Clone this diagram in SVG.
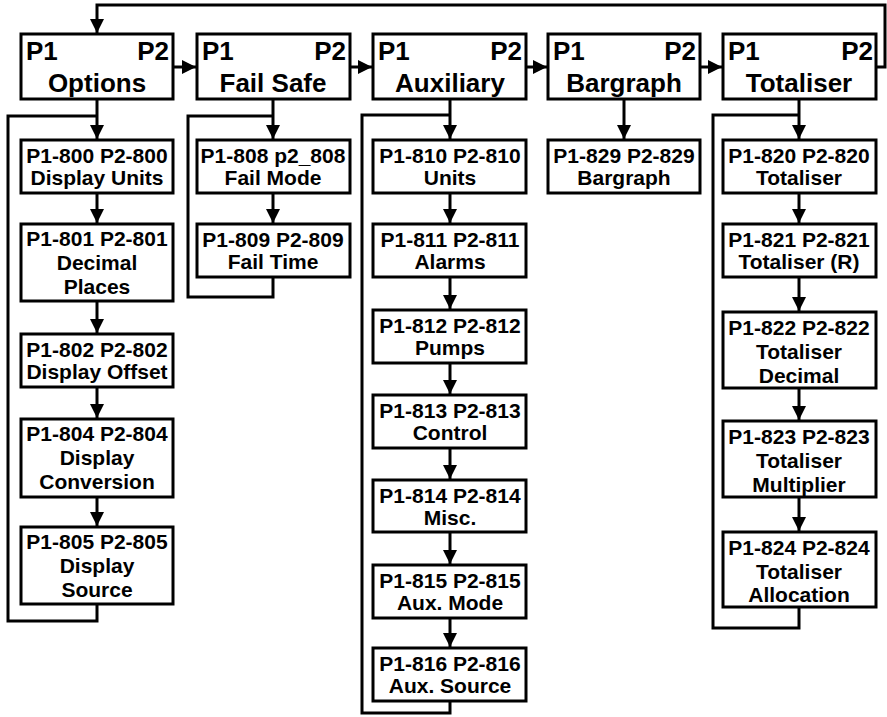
<svg xmlns="http://www.w3.org/2000/svg" width="887" height="717" viewBox="0 0 887 717">
<defs>
<marker id="ah" markerUnits="userSpaceOnUse" markerWidth="16" markerHeight="16" refX="14" refY="7" orient="auto">
<path d="M0,0 L14,7 L0,14 z" fill="#000"/>
</marker>
</defs>
<style>
rect{fill:#fff;stroke:#000;stroke-width:3}
.c line,.c polyline{fill:none;stroke:#000;stroke-width:3}
.a{marker-end:url(#ah)}
text{font-family:"Liberation Sans",Arial,sans-serif;font-weight:bold;fill:#000}
.h{font-size:26px}
.s{font-size:21px;text-anchor:middle}
.m{text-anchor:middle}
.e{text-anchor:end}
</style>
<g class="c" id="connectors">
<polyline points="876,67 885,67 885,5 97,5 97,33" class="a"/>
<line x1="174" y1="67" x2="196" y2="67" class="a"/>
<line x1="350" y1="67" x2="372" y2="67" class="a"/>
<line x1="526" y1="67" x2="547" y2="67" class="a"/>
<line x1="701" y1="67" x2="722" y2="67" class="a"/>
<line x1="97" y1="100" x2="97" y2="139" class="a"/>
<line x1="273" y1="100" x2="273" y2="139" class="a"/>
<line x1="450" y1="100" x2="450" y2="139" class="a"/>
<line x1="624" y1="100" x2="624" y2="139" class="a"/>
<line x1="799" y1="100" x2="799" y2="139" class="a"/>
<polyline points="97,605 97,621 8,621 8,116 97,116"/>
<polyline points="273,278 273,297 188,297 188,116 273,116"/>
<polyline points="450,702 450,713 362,713 362,115 450,115"/>
<polyline points="799,608 799,628 713,628 713,115 799,115"/>
<line x1="97" y1="194" x2="97" y2="223" class="a"/>
<line x1="97" y1="302" x2="97" y2="333" class="a"/>
<line x1="97" y1="388" x2="97" y2="418" class="a"/>
<line x1="97" y1="498" x2="97" y2="526" class="a"/>
<line x1="273" y1="194" x2="273" y2="223" class="a"/>
<line x1="450" y1="194" x2="450" y2="223" class="a"/>
<line x1="450" y1="278" x2="450" y2="309" class="a"/>
<line x1="450" y1="364" x2="450" y2="394" class="a"/>
<line x1="450" y1="449" x2="450" y2="479" class="a"/>
<line x1="450" y1="533" x2="450" y2="564" class="a"/>
<line x1="450" y1="619" x2="450" y2="647" class="a"/>
<line x1="799" y1="194" x2="799" y2="223" class="a"/>
<line x1="799" y1="278" x2="799" y2="311" class="a"/>
<line x1="799" y1="389" x2="799" y2="420" class="a"/>
<line x1="799" y1="498" x2="799" y2="531" class="a"/>
</g>
<g id="h-options"><rect x="21" y="34" width="152" height="65"/><text class="h" x="26" y="60">P1</text><text class="h e" x="169" y="60">P2</text><text class="h m" x="97" y="92">Options</text></g>
<g id="h-failsafe"><rect x="197" y="34" width="153" height="65"/><text class="h" x="202" y="60">P1</text><text class="h e" x="346" y="60">P2</text><text class="h m" x="273" y="92">Fail Safe</text></g>
<g id="h-auxiliary"><rect x="373" y="34" width="153" height="65"/><text class="h" x="378" y="60">P1</text><text class="h e" x="522" y="60">P2</text><text class="h m" x="450" y="92">Auxiliary</text></g>
<g id="h-bargraph"><rect x="548" y="34" width="152" height="65"/><text class="h" x="553" y="60">P1</text><text class="h e" x="696" y="60">P2</text><text class="h m" x="624" y="92">Bargraph</text></g>
<g id="h-totaliser"><rect x="723" y="34" width="153" height="65"/><text class="h" x="728" y="60">P1</text><text class="h e" x="873" y="60">P2</text><text class="h m" x="799" y="92">Totaliser</text></g>

<g id="n800"><rect x="21" y="140" width="152" height="53"/><text class="s" x="97" y="163">P1-800 P2-800</text><text class="s" x="97" y="185">Display Units</text></g>
<g id="n801"><rect x="21" y="224" width="152" height="77"/><text class="s" x="97" y="246">P1-801 P2-801</text><text class="s" x="97" y="270">Decimal</text><text class="s" x="97" y="294">Places</text></g>
<g id="n802"><rect x="21" y="334" width="152" height="53"/><text class="s" x="97" y="357">P1-802 P2-802</text><text class="s" x="97" y="379">Display Offset</text></g>
<g id="n804"><rect x="21" y="419" width="152" height="78"/><text class="s" x="97" y="441">P1-804 P2-804</text><text class="s" x="97" y="465">Display</text><text class="s" x="97" y="489">Conversion</text></g>
<g id="n805"><rect x="21" y="527" width="152" height="77"/><text class="s" x="97" y="549">P1-805 P2-805</text><text class="s" x="97" y="573">Display</text><text class="s" x="97" y="597">Source</text></g>

<g id="n808"><rect x="197" y="140" width="153" height="53"/><text class="s" x="273" y="163">P1-808 p2_808</text><text class="s" x="273" y="185">Fail Mode</text></g>
<g id="n809"><rect x="197" y="224" width="153" height="53"/><text class="s" x="273" y="247">P1-809 P2-809</text><text class="s" x="273" y="269">Fail Time</text></g>

<g id="n810"><rect x="373" y="140" width="153" height="53"/><text class="s" x="450" y="163">P1-810 P2-810</text><text class="s" x="450" y="185">Units</text></g>
<g id="n811"><rect x="373" y="224" width="153" height="53"/><text class="s" x="450" y="247">P1-811 P2-811</text><text class="s" x="450" y="269">Alarms</text></g>
<g id="n812"><rect x="373" y="310" width="153" height="53"/><text class="s" x="450" y="333">P1-812 P2-812</text><text class="s" x="450" y="355">Pumps</text></g>
<g id="n813"><rect x="373" y="395" width="153" height="53"/><text class="s" x="450" y="418">P1-813 P2-813</text><text class="s" x="450" y="440">Control</text></g>
<g id="n814"><rect x="373" y="480" width="153" height="52"/><text class="s" x="450" y="503">P1-814 P2-814</text><text class="s" x="450" y="525">Misc.</text></g>
<g id="n815"><rect x="373" y="565" width="153" height="53"/><text class="s" x="450" y="588">P1-815 P2-815</text><text class="s" x="450" y="610">Aux. Mode</text></g>
<g id="n816"><rect x="373" y="648" width="153" height="53"/><text class="s" x="450" y="671">P1-816 P2-816</text><text class="s" x="450" y="693">Aux. Source</text></g>

<g id="n829"><rect x="548" y="140" width="152" height="53"/><text class="s" x="624" y="163">P1-829 P2-829</text><text class="s" x="624" y="185">Bargraph</text></g>

<g id="n820"><rect x="723" y="140" width="153" height="53"/><text class="s" x="799" y="163">P1-820 P2-820</text><text class="s" x="799" y="185">Totaliser</text></g>
<g id="n821"><rect x="723" y="224" width="153" height="53"/><text class="s" x="799" y="247">P1-821 P2-821</text><text class="s" x="799" y="269">Totaliser (R)</text></g>
<g id="n822"><rect x="723" y="312" width="153" height="76"/><text class="s" x="799" y="335">P1-822 P2-822</text><text class="s" x="799" y="359">Totaliser</text><text class="s" x="799" y="383">Decimal</text></g>
<g id="n823"><rect x="723" y="421" width="153" height="76"/><text class="s" x="799" y="444">P1-823 P2-823</text><text class="s" x="799" y="468">Totaliser</text><text class="s" x="799" y="492">Multiplier</text></g>
<g id="n824"><rect x="723" y="532" width="153" height="75"/><text class="s" x="799" y="555">P1-824 P2-824</text><text class="s" x="799" y="579">Totaliser</text><text class="s" x="799" y="602">Allocation</text></g>
</svg>
